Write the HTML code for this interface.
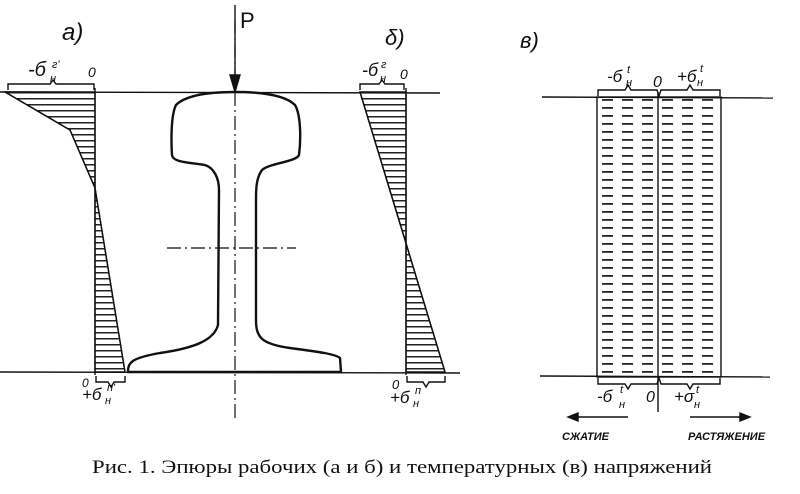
<!DOCTYPE html>
<html><head><meta charset="utf-8"><style>
html,body{margin:0;padding:0;background:#fff;width:800px;height:494px;overflow:hidden}
svg{display:block}
text{font-family:"Liberation Sans",sans-serif;font-style:italic;fill:#111}
text.n{font-style:normal}
</style></head><body>
<svg width="800" height="494" viewBox="0 0 800 494" xmlns="http://www.w3.org/2000/svg">
<defs>
<pattern id="h" width="8" height="6" patternUnits="userSpaceOnUse"><rect x="0" y="2" width="8" height="1.5" fill="#222"/></pattern>
<pattern id="d" width="20" height="8" patternUnits="userSpaceOnUse"><rect x="2" y="3" width="11" height="1.8" fill="#222"/></pattern>
</defs>
<g stroke="#111" fill="none" stroke-width="1.4">
<line x1="0" y1="92" x2="440" y2="93"/>
<line x1="0" y1="372" x2="460" y2="373"/>
<polygon points="5,92 95,92 95,188 70,130" fill="url(#h)"/>
<polygon points="95,188 125,372 95,372" fill="url(#h)"/>
<polyline points="5,92 70,130 95,188 125,372"/>
<line x1="95" y1="88" x2="95" y2="375"/>
<path d="M235,92 C260,92 285,95 295,105 C301,115 301,140 299,155 C296,162 270,163 262,170 C256,178 256,190 256,200 L256,320 C256,338 262,344 290,348 C320,352 335,354 340,358 L341,372 L128,372 C128,362 132,358 160,353 C195,348 214,340 218,325 L219,190 C219,178 214,168 205,165 C185,162 173,162 172,155 C171,140 171,115 176,105 C186,95 210,92 235,92 Z" stroke-width="2.4" fill="#fff"/>
<line x1="235" y1="20" x2="235" y2="418" stroke-dasharray="14,4,2,4" stroke-width="1.2"/>
<line x1="167" y1="248" x2="296" y2="248" stroke-dasharray="14,4,2,4" stroke-width="1.2"/>
<line x1="235" y1="5" x2="235" y2="80"/>
<polygon points="230,75 240,75 235,92" fill="#111"/>
<polygon points="360,92 406,92 406,243" fill="url(#h)"/>
<polygon points="406,243 445,372 406,372" fill="url(#h)"/>
<line x1="360" y1="92" x2="445" y2="372"/>
<line x1="406" y1="88" x2="406" y2="375"/>
<line x1="542" y1="97" x2="773" y2="98"/>
<line x1="540" y1="376" x2="770" y2="377"/>
<rect x="597" y="97" width="124" height="280" fill="url(#d)"/>
<line x1="658" y1="92" x2="658" y2="412"/>
<path d="M8,90 v-6 h42 l3,-4 l3,4 h38 v6"/>
<path d="M360,90 v-6 h19 l3,-4 l3,4 h19 v6"/>
<path d="M96,376 v6 h12 l3,5 l3,-5 h11 v-6"/>
<path d="M407,376 v6 h16 l3,5 l3,-5 h16 v-6"/>
<path d="M598,96 v-6 h27 l3,-5 l3,5 h26 l2,6 l2,-6 h26 l3,-5 l3,5 h27 v6"/>
<path d="M598,378 v6 h27 l3,5 l3,-5 h26 l2,-6 l2,6 h26 l3,5 l3,-5 h27 v-6"/>
<line x1="575" y1="417" x2="628" y2="417"/>
<polygon points="568,417 578,413 578,421" fill="#111"/>
<line x1="690" y1="417" x2="742" y2="417"/>
<polygon points="750,417 740,413 740,421" fill="#111"/>
</g>
<g font-size="18">
<text x="62" y="40" font-size="24">a)</text>
<text x="240" y="28" font-size="22" class="n">P</text>
<text x="385" y="45" font-size="22">δ)</text>
<text x="520" y="48" font-size="22">в)</text>
<text x="28" y="76" font-size="20">-б</text><text x="50" y="82" font-size="11">н</text><text x="52" y="68" font-size="11">г'</text>
<text x="88" y="77" font-size="14">0</text>
<text x="362" y="76" font-size="18">-б</text><text x="380" y="82" font-size="11">н</text><text x="381" y="68" font-size="11">г</text>
<text x="400" y="79" font-size="14">0</text>
<text x="82" y="387" font-size="12">0</text>
<text x="82" y="400" font-size="17">+б</text><text x="105" y="404" font-size="11">н</text><text x="107" y="391" font-size="11">п'</text>
<text x="392" y="389" font-size="13">0</text>
<text x="390" y="403" font-size="17">+б</text><text x="413" y="407" font-size="11">н</text><text x="415" y="394" font-size="11">п</text>
<text x="607" y="82" font-size="17">-б</text><text x="626" y="86" font-size="11">н</text><text x="627" y="73" font-size="11">t</text>
<text x="653" y="87" font-size="16">0</text>
<text x="677" y="82" font-size="17">+б</text><text x="697" y="86" font-size="11">н</text><text x="700" y="72" font-size="11">t</text>
<text x="597" y="402" font-size="17">-б</text><text x="619" y="408" font-size="11">н</text><text x="620" y="393" font-size="11">t</text>
<text x="646" y="402" font-size="16">0</text>
<text x="674" y="402" font-size="17">+σ</text><text x="694" y="408" font-size="11">н</text><text x="696" y="393" font-size="11">t</text>
<text x="562" y="440" font-size="11" font-weight="bold">СЖАТИЕ</text>
<text x="688" y="440" font-size="11" font-weight="bold">РАСТЯЖЕНИЕ</text>
</g>
<text class="n" x="92" y="473" font-size="19" textLength="620" lengthAdjust="spacingAndGlyphs" style="font-family:'Liberation Serif',serif">Рис. 1. Эпюры рабочих (а и б) и температурных (в) напряжений</text>
</svg>
</body></html>
